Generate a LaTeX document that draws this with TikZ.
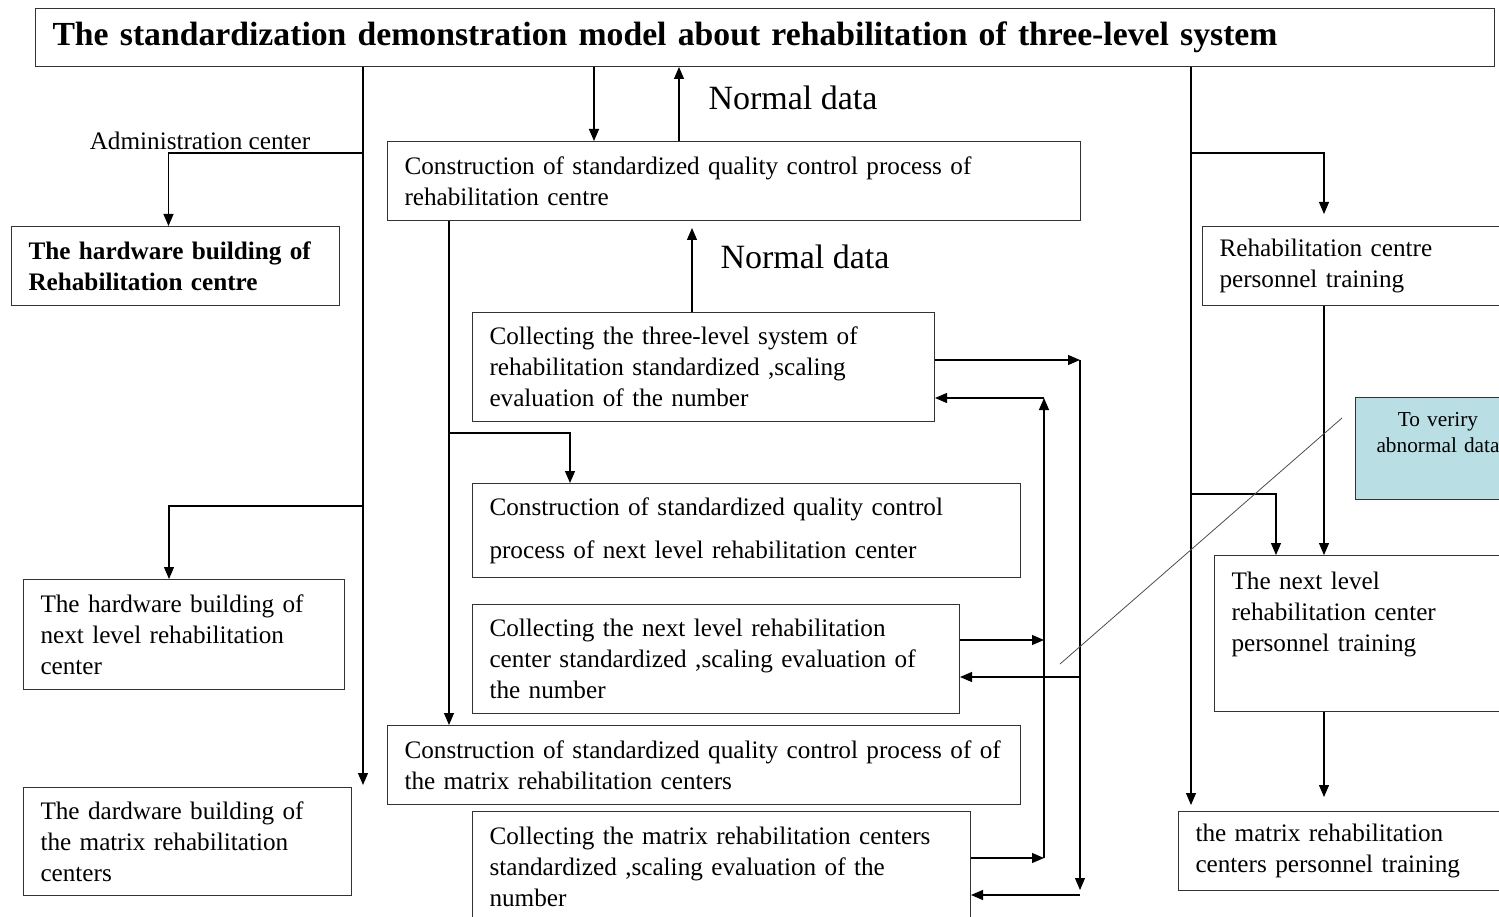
\documentclass[tikz,border=0pt]{standalone}
\usepackage{fontspec}
\setmainfont{Liberation Serif}
\usetikzlibrary{arrows.meta, calc}
\definecolor{abnfill}{RGB}{185,222,228}
\newcommand{\bodysize}{\fontsize{25.2}{31}\selectfont}
\tikzset{
  box/.style={
    draw=black!80, line width=1pt, anchor=north west,
    inner xsep=17pt, inner ysep=0pt,
    align=left, font=\bodysize
  },
  arr/.style={
    -{Triangle[length=12pt, width=10pt]}, line width=1.2pt
  },
  lbl/.style={
    font=\fontsize{34}{40}\selectfont
  }
}

\begin{document}
\begin{tikzpicture}[x=1pt, y=-1pt]
  \useasboundingbox (0,0) rectangle (1499,917);
  \clip (0,0) rectangle (1499,917);

  \node[box, text width=1425pt, minimum height=58pt, font=\fontsize{33.7}{40}\selectfont\bfseries] (title) at (35,8) {The standardization demonstration model about rehabilitation of three-level system};

  % left column
  \node[box, text width=294pt, minimum height=79pt, font=\bodysize\bfseries] (hwrc) at (11,226) {The hardware building of\\Rehabilitation centre};
  \node[box, text width=287pt, minimum height=110pt] (hwnext) at (23,579) {The hardware building of\\next level rehabilitation\\center};
  \node[box, text width=294pt, minimum height=108pt] (hwmatrix) at (23,787) {The dardware building of\\the matrix rehabilitation\\centers};
  \node[font=\bodysize] (admin) at (200,141) {Administration center};

  % middle column
  \node[box, text width=659pt, minimum height=79pt] (consrc) at (387,141) {Construction of standardized quality control process of\\rehabilitation centre};
  \node[box, text width=428pt, minimum height=109pt] (collthree) at (472,312) {Collecting the three-level system of\\rehabilitation standardized ,scaling\\evaluation of the number};
  \node[box, text width=514pt, minimum height=94pt, font=\fontsize{25.2}{43}\selectfont] (consnext) at (472,483) {Construction of standardized quality control\\process of next level rehabilitation center};
  \node[box, text width=453pt, minimum height=109pt] (collnext) at (472,604) {Collecting the next level rehabilitation\\center standardized ,scaling evaluation of\\the number};
  \node[box, text width=599pt, minimum height=79pt] (consmatrix) at (387,725) {\mbox{Construction of standardized quality control process of of}\\the matrix rehabilitation centers};
  \node[box, text width=464pt, minimum height=110pt] (collmatrix) at (472,811) {Collecting the matrix rehabilitation centers\\standardized ,scaling evaluation of the\\number};
  \node[lbl] (normtop) at (793,98) {Normal data};
  \node[lbl] (normmid) at (805,257) {Normal data};

  % right column
  \node[box, text width=286pt, minimum height=79pt] (trainrc) at (1202,226) {Rehabilitation centre\\personnel training};
  \node[box, text width=286pt, minimum height=156pt] (trainnext) at (1214,555) {The next level\\rehabilitation center\\personnel training\\[13pt]~};
  \node[box, text width=308pt, minimum height=79pt] (trainmatrix) at (1178,811) {the matrix rehabilitation\\centers personnel training};
  \node[box, fill=abnfill, text width=131pt, align=center, minimum height=102pt, font=\fontsize{21.3}{26}\selectfont] (verify) at (1355,397) {To veriry\\abnormal data\\[6pt]~};

  \coordinate (ltrunk) at (363,785);
  \coordinate (rtrunk) at (1191,805);
  \coordinate (xa) at (594,0);
  \coordinate (xb) at (679,0);
  \coordinate (xc) at (692,0);
  \coordinate (xd) at (449,0);
  \coordinate (xe) at (570,0);
  \coordinate (xr) at (1324,0);
  \coordinate (xs) at (1276,0);

  % trunks from the title
  \draw[arr] (title.south -| ltrunk) -- (ltrunk);
  \draw[arr] (363,153) -| ([xshift=-7pt]hwrc.north);
  \draw[arr] (363,506) -| ([xshift=-15pt]hwnext.north);
  \draw[arr] (title.south -| rtrunk) -- (rtrunk);
  \draw[arr] (1191,153) -| (1324,214);
  \draw[arr] (1191,494) -| (trainnext.north -| xs);
  \draw[arr] (trainrc.south -| xr) -- (trainnext.north -| xr);
  \draw[arr] (trainnext.south -| xr) -- (1324,797);

  % middle flow
  \draw[arr] (title.south -| xa) -- (consrc.north -| xa);
  \draw[arr] (consrc.north -| xb) -- (title.south -| xb);
  \draw[arr] (collthree.north -| xc) -- ([yshift=-7pt]consrc.south -| xc);
  \draw[arr] (consrc.south -| xd) -- (consmatrix.north -| xd);
  \draw[arr] (449,433) -| (consnext.north -| xe);

  % data loops
  \coordinate (o1) at (1080,360);
  \coordinate (o2) at (1080,890);
  \coordinate (o3) at (1080,895);
  \coordinate (o4) at (1080,677);
  \coordinate (i1) at (1044,640);
  \coordinate (i2) at (1044,858);
  \coordinate (i3) at (1044,398);
  \draw[arr] (collthree.east |- o1) -- (o1);
  \draw[arr] (o1) -- (o2);
  \draw[arr] (o3) -- (collmatrix.east |- o3);
  \draw[arr] (o4) -- (collnext.east |- o4);
  \draw[arr] (collnext.east |- i1) -- (i1);
  \draw[arr] (collmatrix.east |- i2) -- (i2);
  \draw[arr] (i2) -- (i3);
  \draw[arr] (i3) -- (collthree.east |- i3);

  \draw[black!70, line width=0.8pt] (1060,664) -- ([xshift=-13pt, yshift=-21pt]verify.north west);
\end{tikzpicture}
\end{document}
